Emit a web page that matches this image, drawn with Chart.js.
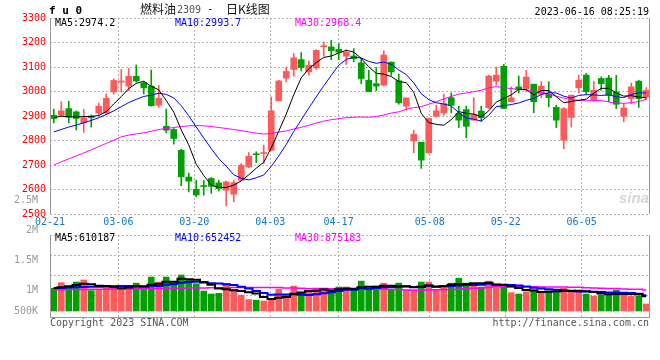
<!DOCTYPE html>
<html><head><meta charset="utf-8">
<script src="https://cdn.jsdelivr.net/npm/chart.js@4/dist/chart.umd.min.js"></script>
<style>
html,body{margin:0;padding:0;background:#fff;}
#wrap{position:relative;width:660px;height:360px;overflow:hidden;font-family:'DejaVu Sans Mono',monospace;}
canvas{position:absolute;left:0;}
#cPrice{top:0;z-index:1}
#cVol{top:190px;z-index:2}
.t{position:absolute;white-space:nowrap;font-size:10px;line-height:12px;z-index:3;font-family:'DejaVu Sans Mono',monospace;}
</style></head><body>
<div id="wrap">
<canvas id="cPrice" width="660" height="232"></canvas>
<canvas id="cVol" width="660" height="170"></canvas>
<div class="t" style="left:49px;top:5px;font-weight:bold;font-size:11px;color:#000">f u 0</div>
<div class="t" style="left:140px;top:2px;font-size:12px;line-height:14px;font-family:'Noto Sans CJK SC',sans-serif;color:#111">燃料油</div>
<div class="t" style="left:177px;top:4px;color:#555">2309</div>
<div class="t" style="left:207px;top:3px;font-size:11px;color:#111">-</div>
<div class="t" style="left:226px;top:2px;font-size:12px;line-height:14px;font-family:'Noto Sans CJK SC',sans-serif;color:#111">日K线图</div>
<div class="t" style="right:11px;top:6px;color:#000">2023-06-16 08:25:19</div>
<div class="t" id="lp5" style="left:55px;top:17px;color:#000"></div>
<div class="t" id="lp10" style="left:175px;top:17px;color:#0000ff"></div>
<div class="t" id="lp30" style="left:295px;top:17px;color:#ff00ff"></div>
<div class="t" id="lv5" style="left:55px;top:232px;color:#000"></div>
<div class="t" id="lv10" style="left:175px;top:232px;color:#0000ff"></div>
<div class="t" id="lv30" style="left:295px;top:232px;color:#ff00ff"></div>
<div class="t" style="left:619px;top:190px;font-family:'Liberation Sans',sans-serif;font-style:italic;font-weight:bold;font-size:15px;line-height:16px;color:#d6d6d6">sina</div>
<div class="t" style="left:50px;top:317px;color:#555">Copyright 2023 SINA.COM</div>
<div class="t" style="right:11px;top:317px;color:#555">http://finance.sina.com.cn</div>
</div>
<script>
const dates = ['02-21','02-22','02-23','02-24','02-27','02-28',
'03-01','03-02','03-03','03-06','03-07','03-08','03-09','03-10','03-13','03-14','03-15','03-16','03-17','03-20','03-21','03-22','03-23','03-24','03-27','03-28','03-29','03-30','03-31',
'04-03','04-04','04-06','04-07','04-10','04-11','04-12','04-13','04-14','04-17','04-18','04-19','04-20','04-21','04-24','04-25','04-26','04-27','04-28',
'05-04','05-05','05-08','05-09','05-10','05-11','05-12','05-15','05-16','05-17','05-18','05-19','05-22','05-23','05-24','05-25','05-26','05-29','05-30','05-31',
'06-01','06-02','06-05','06-06','06-07','06-08','06-09','06-12','06-13','06-14','06-15','06-16'];
const xTickIdx = [0,9,19,29,38,50,60,70];

const opens  = [2903,2903,2930,2917,2872,2900,2912,2912,2998,3038,3022,3062,3035,3022,2944,2858,2845,2760,2651,2601,2614,2645,2627,2597,2581,2638,2692,2745,2747,2760,2962,3055,3090,3130,3080,3096,3183,3182,3172,3144,3145,3117,3046,3032,3026,3120,3044,2940,2798,2793,2750,2899,2913,2975,2910,2926,2883,2920,2934,3042,3103,2958,3019,3012,3030,2989,2989,2935,2801,2894,3015,3067,2964,3053,3055,2998,2899,2971,3042,2978];
const highs  = [2928,2958,2960,2921,2927,2904,2953,2990,3052,3090,3094,3108,3040,3088,3025,2928,2849,2764,2667,2638,2638,2649,2638,2635,2638,2706,2751,2754,2781,2978,3046,3100,3155,3159,3125,3171,3202,3209,3195,3171,3175,3134,3087,3098,3166,3121,3071,2974,2842,2793,2892,2944,2989,2994,2940,2940,2975,2940,3067,3100,3111,3019,3063,3086,3030,3040,3040,2944,2935,2985,3067,3074,3042,3060,3066,3066,2951,3035,3046,3016];
const lows   = [2872,2898,2872,2843,2833,2855,2903,2905,2990,2998,3003,3038,2990,2940,2935,2832,2785,2615,2590,2570,2577,2584,2594,2533,2550,2635,2689,2710,2706,2758,2962,3039,3062,3084,3066,3090,3144,3130,3130,3110,3121,3032,2999,3003,3022,3066,2948,2924,2750,2686,2747,2896,2903,2913,2853,2811,2883,2879,2930,3026,2931,2958,2994,2999,2913,2975,2937,2853,2766,2855,2994,2989,2960,3005,2958,2930,2876,2951,2935,2967];
const closes = [2890,2921,2895,2890,2893,2893,2940,2972,3045,3043,3062,3043,3015,2942,2972,2842,2808,2652,2634,2578,2612,2613,2604,2631,2628,2699,2736,2742,2750,2921,3043,3082,3137,3098,3107,3168,3185,3166,3160,3160,3134,3053,2999,3022,3149,3080,2954,2974,2826,2720,2890,2921,2951,2944,2883,2858,2906,2893,3063,3067,2931,2974,3008,3059,2958,3022,2975,2883,2930,2985,3046,2999,3005,3032,2985,2948,2933,3019,2971,3005];

const ma5  = [2893,2899,2897,2896,2898,2898,2902,2918,2949,2979,3012,3033,3042,3021,3007,2963,2916,2843,2782,2703,2657,2618,2608,2608,2618,2635,2660,2687,2711,2770,2838,2908,2987,3056,3093,3118,3139,3145,3157,3168,3161,3135,3101,3074,3071,3061,3041,3036,2997,2911,2873,2866,2862,2885,2918,2911,2908,2897,2921,2957,2972,2986,3009,3008,2986,3004,3004,2979,2954,2959,2964,2969,2993,3013,3013,2994,2981,2983,2977,2974.2];
const ma10 = [2835,2845,2855,2863,2872,2882,2893,2906,2921,2938,2955,2968,2980,2985,2993,2988,2974,2942,2901,2855,2810,2767,2726,2695,2660,2646,2639,2648,2659,2694,2737,2784,2837,2884,2932,2978,3023,3066,3107,3131,3140,3137,3123,3115,3120,3111,3088,3069,3035,2991,2967,2954,2949,2941,2914,2892,2887,2879,2903,2938,2942,2947,2953,2964,2972,2988,2995,2994,2981,2973,2984,2987,2986,2984,2986,2979,2975,2988,2995,2993.7];
const ma30 = [2700,2713,2725,2737,2749,2762,2775,2788,2801,2815,2822,2827,2831,2838,2845,2849,2853,2857,2860,2861,2860,2857,2853,2849,2845,2840,2835,2830,2826,2829,2834,2839,2847,2854,2862,2871,2879,2885,2889,2893,2895,2896,2895,2898,2904,2912,2917,2927,2934,2938,2948,2958,2970,2980,2989,2994,2999,3005,3015,3020,3016,3012,3008,3007,3002,2997,2990,2981,2973,2967,2964,2962,2963,2963,2957,2953,2952,2954,2959,2968.4];

// volumes in thousands of lots
const volumes = [940,1175,1034,1203,1288,846,893,968,1034,968,1006,1156,893,1410,1203,1410,1175,1495,1288,1128,827,705,733,1147,893,658,479,451,414,479,912,658,1034,733,827,940,940,799,996,996,893,1241,893,1034,1156,893,1156,874,874,1203,1203,893,968,1156,1363,1156,1100,996,1241,968,1100,761,705,799,874,799,827,761,940,846,827,705,620,658,658,874,705,620,620,291];
const volMa5  = [960,990,1030,1080,1128,1109,1053,1040,1006,942,974,1026,1011,1087,1134,1214,1218,1339,1314,1299,1183,1089,936,908,861,827,782,726,579,496,547,583,699,763,833,838,895,848,900,934,925,985,1004,1011,1043,1043,1026,1023,991,1000,1062,1009,1028,1085,1117,1107,1149,1154,1171,1092,1081,1013,955,867,848,788,801,812,840,835,840,816,788,731,696,705,705,705,698,610.187];
const volMa10 = [950,960,975,990,1000,1005,1010,1020,1030,1035,1042,1040,1026,1046,1038,1094,1122,1175,1200,1216,1199,1153,1137,1111,1080,1005,935,831,744,679,687,682,713,671,665,693,739,774,832,884,882,940,926,956,989,984,1006,1013,1001,1022,1053,1018,1025,1038,1058,1085,1079,1091,1128,1104,1094,1081,1055,1019,970,934,907,884,853,841,814,808,800,786,765,773,761,747,715,652.452];
const volMa30 = [880,885,890,893,897,900,903,906,910,913,917,920,924,927,930,935,940,945,950,955,960,963,966,970,972,975,976,977,977,977,976,958,958,943,927,931,932,927,925,926,922,925,925,913,911,894,893,873,859,861,874,880,888,888,904,920,941,959,987,1003,1009,1013,1002,1004,1006,1001,997,996,994,989,987,969,960,947,931,930,915,907,898,875.183];
const volTickLabels = ['500K','1M','1.5M','2M','2.5M'];
const volTickVals = [0.662,1,1.5,2,2.5];

const UP = '#ff5a5a', DOWN = '#00a000';
const candleColors = closes.map((c,i) => c >= opens[i] ? UP : DOWN);
const mono = {family:"'DejaVu Sans Mono', monospace", size:10};
const gridColor = '#b4b4b4';
const last = closes.length - 1;

document.getElementById('lp5').textContent = 'MA5:' + ma5[last].toFixed(1);
document.getElementById('lp10').textContent = 'MA10:' + ma10[last].toFixed(1);
document.getElementById('lp30').textContent = 'MA30:' + ma30[last].toFixed(1);
document.getElementById('lv5').textContent = 'MA5:' + Math.round(volMa5[last]*1000);
document.getElementById('lv10').textContent = 'MA10:' + Math.round(volMa10[last]*1000);
document.getElementById('lv30').textContent = 'MA30:' + Math.round(volMa30[last]*1000);

const framePlugin = {
  id: 'frame',
  afterDraw(chart, args, opts) {
    const {ctx, chartArea: a} = chart;
    ctx.save();
    ctx.strokeStyle = '#999';
    ctx.lineWidth = 1;
    ctx.setLineDash([]);
    ctx.beginPath();
    ctx.moveTo(a.left + 0.5, a.top); ctx.lineTo(a.left + 0.5, a.bottom);
    ctx.moveTo(a.right - 0.5, a.top); ctx.lineTo(a.right - 0.5, a.bottom);
    if (opts.bottom) { ctx.moveTo(a.left, a.bottom - 0.5); ctx.lineTo(a.right, a.bottom - 0.5); }
    ctx.stroke();
    ctx.restore();
  }
};

function maLine(data, color, width, yId, stepped) {
  return {type:'line', data, borderColor:color, borderWidth:width, pointRadius:0, tension:0,
          stepped: stepped || false, order:0, xAxisID:'x', yAxisID:yId};
}
const gridAxisX = (showLabels, h) => ({
  type:'linear', position:'bottom', min:0, max:last, offset:false,
  afterBuildTicks: s => { s.ticks = xTickIdx.map(v => ({value:v})); },
  ticks:{display:showLabels, autoSkip:false, maxRotation:0, color:'#1177cc', font:mono, padding:2,
         callback: v => dates[v]},
  grid:{color:gridColor, drawTicks:false, lineWidth:1, offset:false},
  border:{display:false, dash:[2,2]},
  afterFit: s => { s.height = h; }
});

new Chart(document.getElementById('cPrice'), {
  type:'bar',
  data:{labels:dates, datasets:[
    maLine(ma5, '#000000', 1, 'y'),
    maLine(ma10, '#0000ff', 1, 'y'),
    maLine(ma30, '#ff00ff', 1, 'y'),
    {label:'body', data:opens.map((o,i) => [o, closes[i]]), backgroundColor:candleColors,
     barThickness:6, grouped:false, minBarLength:1, order:1, xAxisID:'x', yAxisID:'y'},
    {label:'wick', data:lows.map((l,i) => [l, highs[i]]), backgroundColor:candleColors,
     barThickness:1, grouped:false, order:2, xAxisID:'x', yAxisID:'y'}
  ]},
  options:{
    responsive:false, animation:false, devicePixelRatio:1,
    layout:{padding:{top:18, right:10, left:0, bottom:0}},
    plugins:{legend:{display:false}, tooltip:{enabled:false}, frame:{bottom:false}},
    scales:{
      x:{type:'category', display:false, offset:true},
      xg: gridAxisX(true, 18),
      y:{type:'linear', position:'left', min:2500, max:3300,
         ticks:{stepSize:100, color:'#ff0000', font:mono, padding:4, callback: v => String(v)},
         grid:{color:gridColor, drawTicks:false},
         border:{display:false, dash:[2,2]},
         afterFit: s => { s.width = 50; }}
    }
  },
  plugins:[framePlugin]
});

new Chart(document.getElementById('cVol'), {
  type:'bar',
  data:{labels:dates, datasets:[
    maLine(volMa5, '#000000', 2, 'yv', 'middle'),
    maLine(volMa10, '#0000ff', 2, 'yv', 'middle'),
    maLine(volMa30, '#ff00ff', 1.5, 'yv', 'middle'),
    {label:'vol', data:volumes, backgroundColor:candleColors, barThickness:6, order:1, xAxisID:'x', yAxisID:'yv'}
  ]},
  options:{
    responsive:false, animation:false, devicePixelRatio:1,
    layout:{padding:{top:45, right:10, left:0, bottom:42}},
    plugins:{legend:{display:false}, tooltip:{enabled:false}, frame:{bottom:true}},
    scales:{
      x:{type:'category', display:false, offset:true},
      xg: gridAxisX(false, 0),
      yv:{type:'linear', position:'left', display:false, min:-290, max:3154},
      yg:{type:'linear', position:'left', min:-0.15, max:4,
          afterBuildTicks: s => { s.ticks = [1,2,3,4].map(v => ({value:v})); },
          ticks:{display:false}, grid:{color:gridColor, drawTicks:false},
          border:{display:false, dash:[2,2]},
          afterFit: s => { s.width = 0; }},
      yl:{type:'linear', position:'left', min:0.545, max:1.928,
          afterBuildTicks: s => { s.ticks = volTickVals.map(v => ({value:v})); },
          ticks:{autoSkip:false, color:'#999999', font:mono, padding:4,
                 callback:(v,i) => volTickLabels[i]},
          grid:{display:false}, border:{display:false},
          afterFit: s => { s.width = 50; }}
    }
  },
  plugins:[framePlugin]
});
</script>
</body></html>
